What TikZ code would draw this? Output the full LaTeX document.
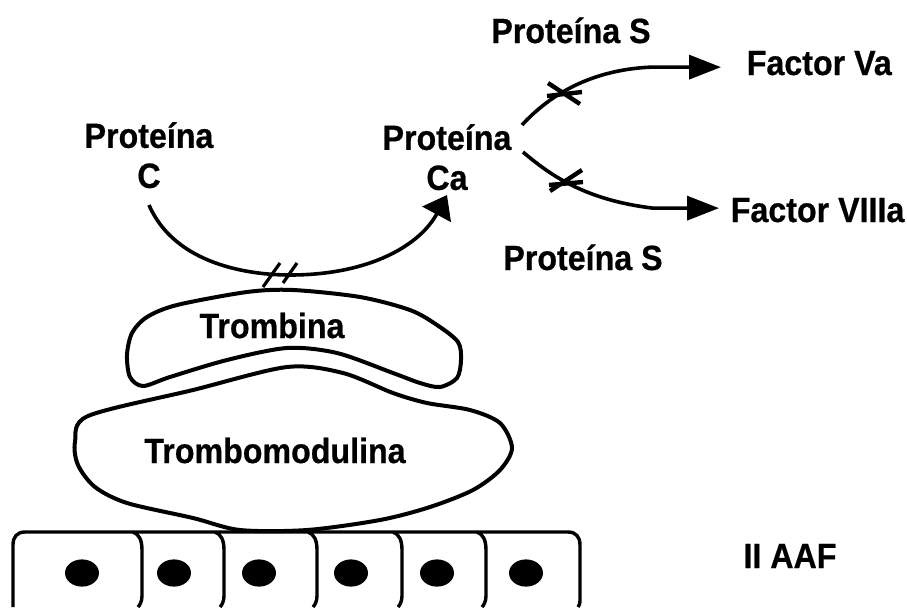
\documentclass[tikz,border=0pt]{standalone}
\usepackage{fontspec}
\setmainfont[FakeStretch=0.92,BoldFeatures={FakeBold=0.6}]{Liberation Sans}
\usetikzlibrary{arrows.meta}

\begin{document}
\begin{tikzpicture}[x=0.5pt,y=-0.5pt,line width=1.8pt,lbl/.style={font=\fontsize{17.5}{20}\selectfont\bfseries,inner sep=1pt,align=center},blob/.style={line width=2pt},flow/.style={-{Triangle[length=16pt,width=12pt]},line width=1.8pt},block/.style={line width=1.7pt},cut/.style={line width=2.2pt}]
  \useasboundingbox (0,0) rectangle (907,607);
  \node[lbl,anchor=south] (protC) at (149,192) {Proteína\\C};
  \node[lbl,anchor=south] (protCa) at (447,194) {Proteína\\Ca};
  \node[lbl,anchor=base] (protSup) at (571,43) {Proteína S};
  \node[lbl,anchor=base west] (factVa) at (743,75) {Factor Va};
  \node[lbl,anchor=base west] (factVIII) at (727,222) {Factor VIIIa};
  \node[lbl,anchor=base] (protSinf) at (583,270) {Proteína S};
  \node[lbl,anchor=base] (tromb) at (272,338) {Trombina};
  \node[lbl,anchor=base] (trombmod) at (275,463) {Trombomodulina};
  \node[lbl,anchor=base] (aaf) at (790,568) {II AAF};
  \coordinate (vaStart) at (522,125);
  \coordinate (viiiStart) at (523,152);
  \draw[-{Triangle[length=11pt,width=16pt]}] ([yshift=-6.5pt]protC.south) .. controls (175,265) and (250,275) .. (290,275) .. controls (370,275) and (420,245) .. ([yshift=-0.5pt]protCa.south);
  \draw[line width=1.6pt] (263,287) -- (280,263) (283,283) -- (297,263);
  \draw[flow] (vaStart) .. controls (545,100) and (585,70) .. ([xshift=-46pt,yshift=-2pt]factVa.west) -- ([xshift=-11pt,yshift=-2pt]factVa.west);
  \draw[flow] (viiiStart) .. controls (550,175) and (585,200) .. ([xshift=-37pt,yshift=1pt]factVIII.west) -- ([xshift=-4pt,yshift=1pt]factVIII.west);
  \draw[cut] (548,83) -- (580,104) (547,96) -- (582,92);
  \draw[cut] (550,191) -- (582,170) (549,185) -- (583,182);
  \draw[blob] plot[smooth cycle] coordinates {(132,333) (147,317) (177,305) (247,292) (293,290) (360,297) (410,310) (437,325) (458,342) (461,360) (457,378) (440,387) (420,383) (393,373) (337,353) (287,348) (227,360) (170,377) (143,386) (130,377) (127,355)};
  \draw[blob] plot[smooth cycle] coordinates {(88,416) (193,390) (287,367) (343,373) (393,393) (427,403) (470,410) (500,423) (512,448) (500,470) (473,490) (430,507) (380,520) (307,530) (240,530) (193,518) (127,503) (95,487) (78,465) (75,442)};
  \draw[block] (13,607) -- (13,545) .. controls (13,537) and (17,532) .. (25,532) -- (568,532) .. controls (576,532) and (580,537) .. (580,545) -- (580,600) .. controls (580,604) and (579,606) .. (578,607);
  \foreach \x in {142,224,317,402,486}
    \draw[block] (\x-9,532) .. controls (\x-3,534) and (\x,540) .. (\x,550) -- (\x,596) .. controls (\x,601) and (\x-2,605) .. (\x-4,607);
  \foreach \x in {82,174,259,351,437,526}
    \fill (\x,573) ellipse [x radius=8.5pt,y radius=6.8pt];
\end{tikzpicture}
\end{document}
